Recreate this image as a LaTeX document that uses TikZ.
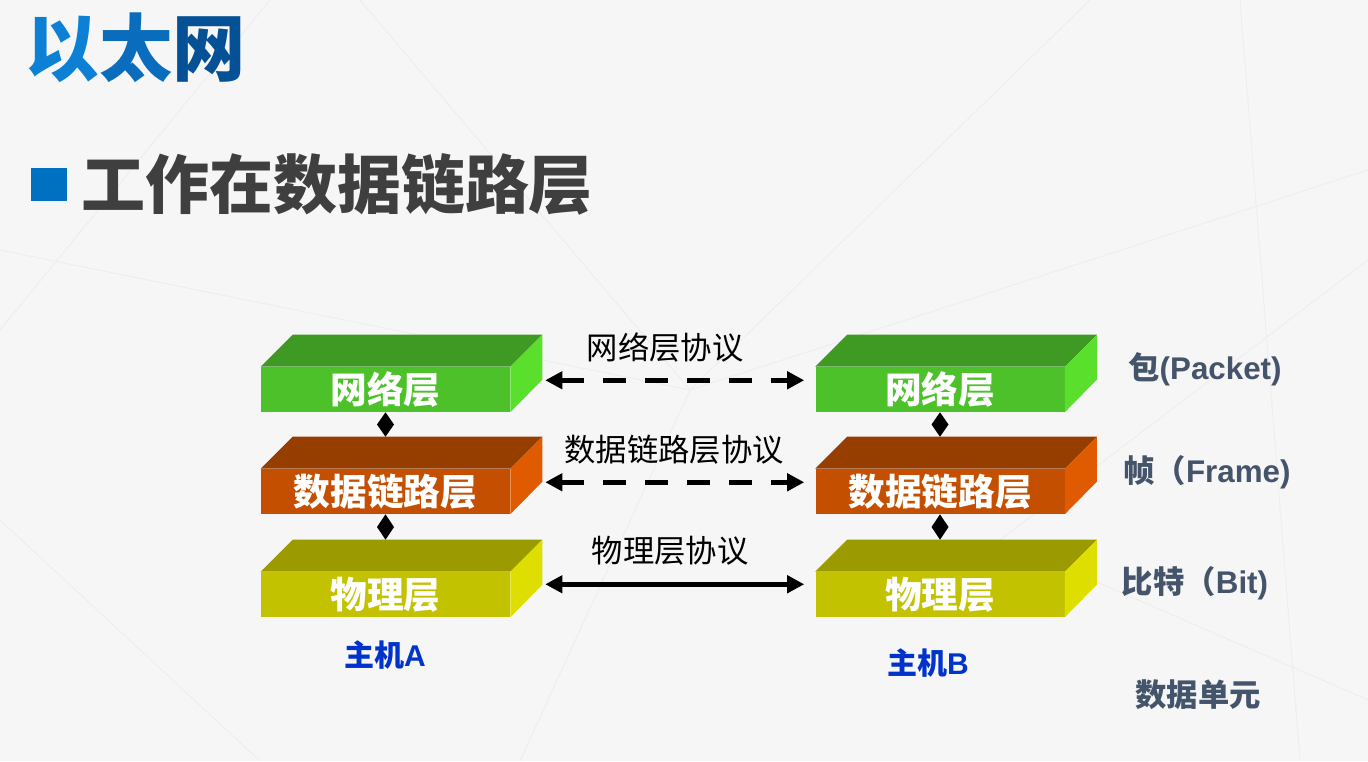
\documentclass[tikz,border=0pt]{standalone}
\usepackage{fontspec}
\setmainfont{Liberation Sans}
\newfontfamily\cjk{Noto Sans CJK SC}
\usetikzlibrary{arrows.meta,calc}
\definecolor{bgc}{HTML}{F6F6F6}
\definecolor{bgline}{HTML}{EDEDED}
\definecolor{ntop}{HTML}{3E9A22}
\definecolor{nfront}{HTML}{4CC12A}
\definecolor{nside}{HTML}{5BDF2D}
\definecolor{dtop}{HTML}{963E00}
\definecolor{dfront}{HTML}{C44F00}
\definecolor{dside}{HTML}{E05B00}
\definecolor{ptop}{HTML}{9B9A00}
\definecolor{pfront}{HTML}{C3C200}
\definecolor{pside}{HTML}{DEDE00}
\definecolor{tA}{HTML}{0B80D5}
\definecolor{tB}{HTML}{0A6CBD}
\definecolor{tC}{HTML}{065196}
\definecolor{bulletc}{HTML}{0070C0}
\definecolor{subc}{HTML}{3F3F3F}
\definecolor{unitc}{HTML}{44546A}
\definecolor{hostc}{HTML}{0033CC}
\newcommand\layerblock[6]{%
  \node[layerfront, fill=#4] (#1) at (#2) {#6};
  \fill[#3] (#1.north west) -- ++(32,-32) -- ($(#1.north east)+(32,-32)$) -- (#1.north east) -- cycle;
  \fill[#5] (#1.north east) -- ++(32,-32) -- ++(0,45) -- (#1.south east) -- cycle;
}
\newcommand\diamondlink[2]{%
  \fill[black] (#1) -- ($(#1)!0.5!(#2)+(8.5,0)$) -- (#2) -- ($(#1)!0.5!(#2)+(-8.5,0)$) -- cycle;
}
\begin{document}
\begin{tikzpicture}[x=0.75pt,y=-0.75pt,
  layerfront/.style={minimum width=186.75pt, minimum height=33.75pt, inner sep=0pt,
    text=white, font=\cjk\bfseries\fontsize{27.5}{27.5}\selectfont},
  proto/.style={{Triangle[length=12.75pt,width=12.75pt]}-{Triangle[length=12.75pt,width=12.75pt]}, line width=3.4pt, black},
  protodash/.style={proto, dash pattern=on 17.25pt off 14.25pt},
  plabel/.style={inner sep=0pt, font=\cjk\fontsize{23.5}{23.5}\selectfont, text=black},
  unitlabel/.style={inner sep=0pt, text=unitc, font=\bfseries\fontsize{23.5}{23.5}\selectfont},
  hostlabel/.style={inner sep=0pt, text=hostc, font=\bfseries\fontsize{22.5}{22.5}\selectfont},
  bgstroke/.style={draw=bgline, line width=0.6pt}
]
\useasboundingbox (0,0) rectangle (1368,761);
\fill[bgc] (0,0) rectangle (1368,761);
% faint background lines
\draw[bgstroke] (0,330) -- (270,0);
\draw[bgstroke] (0,250) -- (690,390) -- (1368,170);
\draw[bgstroke] (690,390) -- (1090,0);
\draw[bgstroke] (690,390) -- (520,761);
\draw[bgstroke] (1240,0) -- (1300,761);
\draw[bgstroke] (1368,260) -- (1000,540) -- (1368,700);
\draw[bgstroke] (0,520) -- (260,761);
\draw[bgstroke] (360,0) -- (690,390);

% title
\node[inner sep=0pt, font=\cjk\bfseries\fontsize{55}{55}\selectfont] (title) at (136,48)
  {\textcolor{tA}{以}\textcolor{tB}{太}\textcolor{tC}{网}};
\fill[bulletc] (31,168) rectangle (67,201);
\node[inner sep=0pt, text=subc, font=\cjk\bfseries\fontsize{48}{48}\selectfont] (sub) at (337,184) {工作在数据链路层};

% host A stack
\layerblock{A1}{385.5,389.5}{ntop}{nfront}{nside}{网络层}
\layerblock{A2}{385.5,491.5}{dtop}{dfront}{dside}{数据链路层}
\layerblock{A3}{385.5,594.5}{ptop}{pfront}{pside}{物理层}
% host B stack
\layerblock{B1}{940,389.5}{ntop}{nfront}{nside}{网络层}
\layerblock{B2}{940,491.5}{dtop}{dfront}{dside}{数据链路层}
\layerblock{B3}{940,594.5}{ptop}{pfront}{pside}{物理层}

% vertical diamond connectors
\coordinate (A2t) at ($(A2.north)+(0,-32)$);
\coordinate (A3t) at ($(A3.north)+(0,-32)$);
\coordinate (B2t) at ($(B2.north)+(0,-32)$);
\coordinate (B3t) at ($(B3.north)+(0,-32)$);
\diamondlink{A1.south}{A2t}
\diamondlink{A2.south}{A3t}
\diamondlink{B1.south}{B2t}
\diamondlink{B2.south}{B3t}

% protocol arrows
\coordinate (A1r) at ($(A1.south east)+(35,-32)$);
\coordinate (A2r) at ($(A2.south east)+(35,-32)$);
\coordinate (A3r) at ($(A3.south east)+(35,-33)$);
\coordinate (B1l) at ($(B1.west |- A1r)+(-11,0)$);
\coordinate (B2l) at ($(B2.west |- A2r)+(-11,0)$);
\coordinate (B3l) at ($(B3.west |- A3r)+(-11,0)$);
\draw[protodash] (A1r) -- (B1l);
\draw[protodash] (A2r) -- (B2l);
\draw[proto] (A3r) -- (B3l);

\node[plabel] (p1) at (665,348) {网络层协议};
\node[plabel] (p2) at (674,450) {数据链路层协议};
\node[plabel] (p3) at (670,551) {物理层协议};

% hosts
\node[hostlabel] (hA) at (385,655) {{\cjk 主机}A};
\node[hostlabel] (hB) at (928,663) {{\cjk 主机}B};

% data units
\node[unitlabel] (u1) at (1205,369) {{\cjk 包}(Packet)};
\node[unitlabel] (u2) at (1207,472) {{\cjk 帧（}Frame)};
\node[unitlabel] (u3) at (1195,583) {{\cjk 比特（}Bit)};
\node[unitlabel, font=\cjk\bfseries\fontsize{23.5}{23.5}\selectfont] (u4) at (1198,695) {数据单元};
\end{tikzpicture}
\end{document}
